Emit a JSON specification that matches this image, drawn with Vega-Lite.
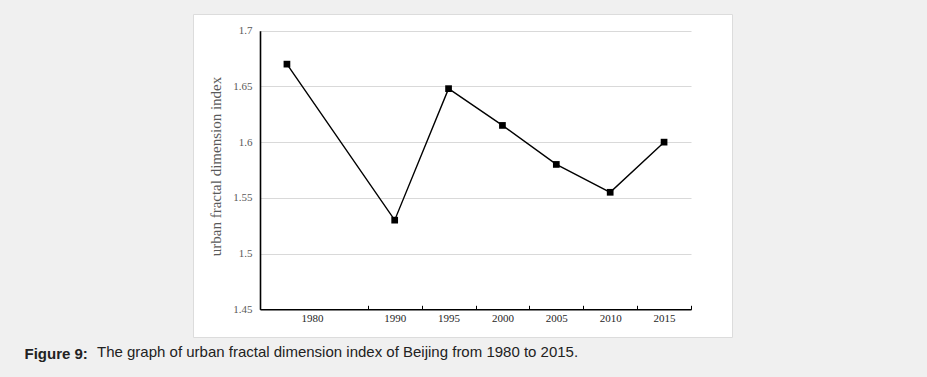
{
  "$schema": "https://vega.github.io/schema/vega-lite/v6.json",
  "width": 539,
  "height": 323,
  "autosize": {"type": "none"},
  "padding": {"left": 193, "top": 14, "right": 195, "bottom": 40},
  "background": "#f0f0f0",
  "title": {
    "text": "The graph of urban fractal dimension index of Beijing from 1980 to 2015.",
    "orient": "bottom",
    "anchor": "start",
    "frame": "group",
    "dx": -96,
    "offset": -16,
    "font": "Liberation Sans",
    "fontSize": 15,
    "fontWeight": "normal",
    "color": "#222222"
  },
  "data": {
    "values": [
      {"year": "1980", "value": 1.670},
      {"year": "1990", "value": 1.530},
      {"year": "1995", "value": 1.648},
      {"year": "2000", "value": 1.615},
      {"year": "2005", "value": 1.580},
      {"year": "2010", "value": 1.555},
      {"year": "2015", "value": 1.600}
    ]
  },
  "encoding": {
    "x": {
      "field": "year",
      "type": "ordinal",
      "scale": {
        "type": "band",
        "domain": ["1980", "1985", "1990", "1995", "2000", "2005", "2010", "2015"],
        "range": [67, 498],
        "paddingInner": 0,
        "paddingOuter": 0
      },
      "axis": {
        "title": "Figure 9:",
        "titleX": -169,
        "titleY": 44,
        "titleAlign": "left",
        "titleBaseline": "middle",
        "titleFont": "Liberation Sans",
        "titleFontSize": 15,
        "titleFontWeight": "bold",
        "titleColor": "#222222",
        "offset": -27.7,
        "grid": false,
        "domainColor": "#000000",
        "domainWidth": 1.6,
        "tickBand": "extent",
        "tickSize": -4,
        "tickColor": "#000000",
        "tickWidth": 1,
        "tickOpacity": {"condition": {"test": "datum.value === '1980'", "value": 0}, "value": 1},
        "labelExpr": "datum.value === '1985' ? '' : datum.value",
        "labelOffset": {"condition": {"test": "datum.value === '1980'", "value": 25}, "value": 0},
        "labelAngle": 0,
        "labelFont": "Liberation Serif",
        "labelFontSize": 11,
        "labelColor": "#262626",
        "labelPadding": 7
      }
    },
    "y": {
      "field": "value",
      "type": "quantitative",
      "scale": {"domain": [1.45, 1.7], "range": [295.3, 16.7], "zero": false, "nice": false},
      "axis": {
        "title": "urban fractal dimension index",
        "titleFont": "Liberation Serif",
        "titleFontSize": 15,
        "titleFontWeight": "normal",
        "titleColor": "#595959",
        "titlePadding": 9,
        "titleY": 152,
        "offset": -67,
        "values": [1.45, 1.5, 1.55, 1.6, 1.65, 1.7],
        "format": ".3~g",
        "ticks": false,
        "domainColor": "#000000",
        "domainWidth": 1.6,
        "grid": true,
        "gridColor": "#d9d9d9",
        "gridWidth": 1,
        "labelFont": "Liberation Serif",
        "labelFontSize": 11,
        "labelColor": "#595959",
        "labelPadding": 8
      }
    }
  },
  "layer": [
    {"mark": {"type": "line", "color": "#000000", "strokeWidth": 1.4}},
    {"mark": {"type": "point", "shape": "square", "filled": true, "size": 45, "color": "#000000", "opacity": 1}}
  ],
  "config": {
    "view": {"fill": "#ffffff", "stroke": "#dcdcdc"}
  }
}
